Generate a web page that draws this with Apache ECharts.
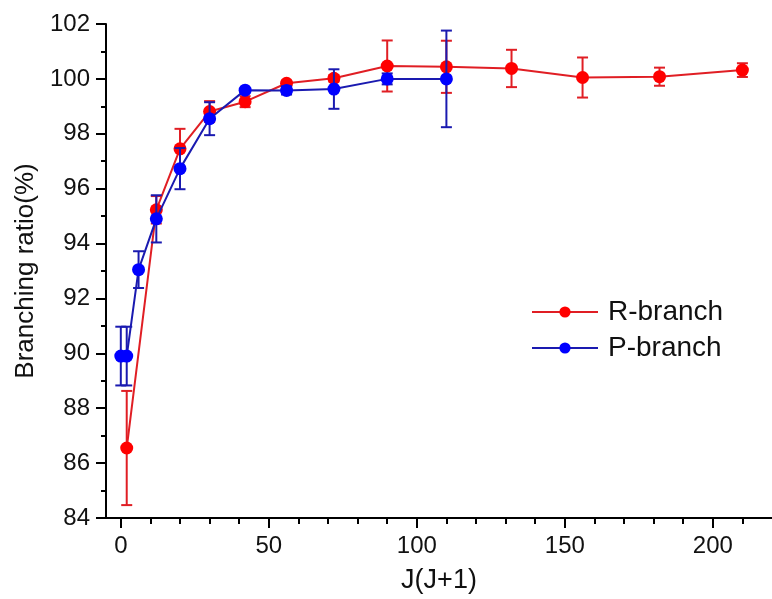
<!DOCTYPE html>
<html>
<head>
<meta charset="utf-8">
<script src="https://cdn.jsdelivr.net/npm/echarts@6/dist/echarts.min.js"></script>
<style>
  html, body { margin: 0; padding: 0; background: #fff; }
  #chart { width: 772px; height: 599px; }
</style>
</head>
<body>
<div id="chart"></div>
<script>
// R-branch
const rX = [2, 12, 20, 30, 42, 56, 72, 90, 110, 132, 156, 182, 210]
const rY = [86.55, 95.23, 97.45, 98.81, 99.17, 99.84, 100.02, 100.47, 100.44, 100.38, 100.05, 100.08, 100.32]
const rErr = [2.08, 0.5, 0.73, 0.38, 0.2, 0.1, 0.12, 0.93, 0.95, 0.68, 0.73, 0.33, 0.25]

// P-branch
const pX = [0, 2, 6, 12, 20, 30, 42, 56, 72, 90, 110]
const pY = [89.9, 89.9, 93.05, 94.9, 96.73, 98.55, 99.59, 99.58, 99.63, 100.0, 100.0]
const pErr = [1.07, 1.07, 0.67, 0.86, 0.75, 0.6, 0.05, 0.15, 0.72, 0.2, 1.76]

const xMajor = [0, 50, 100, 150, 200]
const xMinor = [10, 20, 30, 40, 60, 70, 80, 90, 110, 120, 130, 140, 160, 170, 180, 190, 210]

const font = 'Arial, "Liberation Sans", sans-serif'
const red = '#ff0000'
const redLine = '#e01e24'
const blue = '#0000ff'
const blueLine = '#1a1ab0'

const chart = echarts.init(document.getElementById('chart'))

function pairs (xs, ys) {
  return xs.map((x, i) => [x, ys[i]])
}

function errData (xs, ys, es) {
  return xs.map((x, i) => [x, ys[i] - es[i], ys[i] + es[i]])
}

function errorBars (color) {
  return function (params, api) {
    const lo = api.coord([api.value(0), api.value(1)])
    const hi = api.coord([api.value(0), api.value(2)])
    const half = 5.5
    const style = { stroke: color, lineWidth: 2 }
    return {
      type: 'group',
      children: [
        { type: 'line', shape: { x1: lo[0], y1: lo[1], x2: hi[0], y2: hi[1] }, style },
        { type: 'line', shape: { x1: lo[0] - half, y1: lo[1], x2: lo[0] + half, y2: lo[1] }, style },
        { type: 'line', shape: { x1: hi[0] - half, y1: hi[1], x2: hi[0] + half, y2: hi[1] }, style }
      ]
    }
  }
}

chart.setOption({
  backgroundColor: '#fff',
  animation: false,
  grid: { left: 106, right: 0, top: 24, bottom: 78.5 },
  legend: {
    data: ['R-branch', 'P-branch'],
    orient: 'vertical',
    left: 531,
    top: 298,
    padding: 0,
    itemWidth: 66,
    itemHeight: 14,
    itemGap: 8,
    textStyle: { fontFamily: font, fontSize: 28, color: '#111', padding: [0, 0, 0, 5] }
  },
  xAxis: [
    {
      type: 'value',
      min: -5,
      max: 220,
      name: 'J(J+1)',
      nameLocation: 'middle',
      nameGap: 49,
      nameTextStyle: { fontFamily: font, fontSize: 27, color: '#111' },
      splitLine: { show: false },
      axisLine: { onZero: false, lineStyle: { color: '#000', width: 2 } },
      axisTick: { customValues: xMajor, length: 10, lineStyle: { color: '#000', width: 2 } },
      axisLabel: { customValues: xMajor, margin: 16, fontFamily: font, fontSize: 24, color: '#111' }
    },
    {
      type: 'value',
      min: -5,
      max: 220,
      position: 'bottom',
      splitLine: { show: false },
      axisLine: { show: false, onZero: false },
      axisTick: { customValues: xMinor, length: 6, lineStyle: { color: '#000', width: 2 } },
      axisLabel: { show: false }
    }
  ],
  yAxis: {
    type: 'value',
    min: 84,
    max: 102,
    interval: 2,
    name: 'Branching ratio(%)',
    nameLocation: 'middle',
    nameGap: 67,
    nameTextStyle: { fontFamily: font, fontSize: 26, color: '#111' },
    splitLine: { show: false },
    axisLine: { show: true, onZero: false, lineStyle: { color: '#000', width: 2 } },
    axisTick: { length: 10, lineStyle: { color: '#000', width: 2 } },
    minorTick: { show: true, splitNumber: 2, length: 5, lineStyle: { color: '#000', width: 2 } },
    axisLabel: { margin: 16, fontFamily: font, fontSize: 24, color: '#111' }
  },
  series: [
    {
      name: 'R-err',
      type: 'custom',
      z: 1,
      renderItem: errorBars(redLine),
      encode: { x: 0, y: [1, 2] },
      data: errData(rX, rY, rErr)
    },
    {
      name: 'R-branch',
      type: 'line',
      z: 2,
      symbol: 'circle',
      symbolSize: 13,
      showAllSymbol: true,
      itemStyle: { color: red },
      lineStyle: { color: redLine, width: 2 },
      data: pairs(rX, rY)
    },
    {
      name: 'P-err',
      type: 'custom',
      z: 3,
      renderItem: errorBars(blueLine),
      encode: { x: 0, y: [1, 2] },
      data: errData(pX, pY, pErr)
    },
    {
      name: 'P-branch',
      type: 'line',
      z: 4,
      symbol: 'circle',
      symbolSize: 13,
      showAllSymbol: true,
      itemStyle: { color: blue },
      lineStyle: { color: blueLine, width: 2 },
      data: pairs(pX, pY)
    }
  ]
})
</script>
</body>
</html>
